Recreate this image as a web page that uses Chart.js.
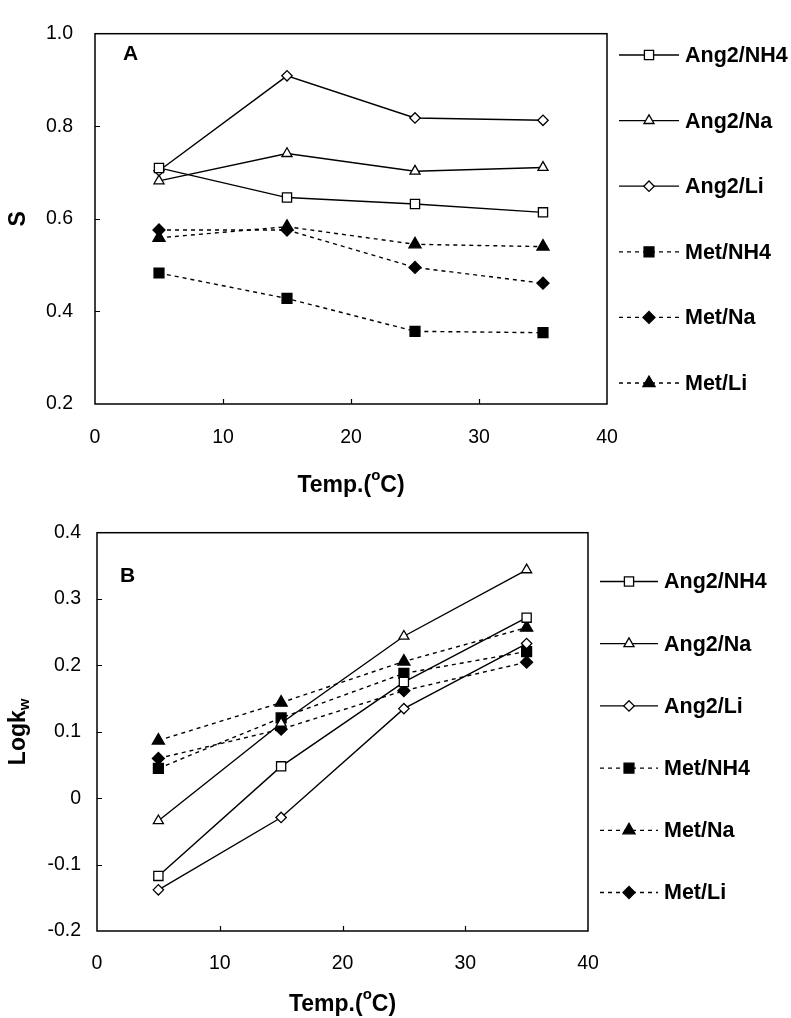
<!DOCTYPE html>
<html>
<head>
<meta charset="utf-8">
<script src="https://cdn.jsdelivr.net/npm/chart.js@4.4.0/dist/chart.umd.min.js"></script>
<style>
  body { margin: 0; background: #fff; }
  #wrap { position: relative; width: 791px; height: 1018px; }
  canvas { position: absolute; left: 0; }
</style>
</head>
<body>
<div id="wrap">
  <canvas id="chartA" width="791" height="505" style="top:0"></canvas>
  <canvas id="chartB" width="791" height="513" style="top:505px"></canvas>
</div>
<script>
const FONT = '"Liberation Sans", Arial, Helvetica, sans-serif';

// temperatures (x axis, deg C)
const temps = [5, 15, 25, 35];
const xTicks = [0, 10, 20, 30, 40];

// panel A: S
const sAng2NH4 = [0.710, 0.646, 0.632, 0.614];
const sAng2Na  = [0.682, 0.741, 0.703, 0.711];
const sAng2Li  = [0.704, 0.909, 0.818, 0.813];
const sMetNH4  = [0.483, 0.428, 0.357, 0.354];
const sMetNa   = [0.576, 0.576, 0.495, 0.461];
const sMetLi   = [0.559, 0.583, 0.545, 0.540];
const sTicks   = [0.2, 0.4, 0.6, 0.8, 1.0];

// panel B: Log kw
const kAng2NH4 = [-0.117, 0.048, 0.175, 0.272];
const kAng2Na  = [-0.034, 0.113, 0.244, 0.344];
const kAng2Li  = [-0.138, -0.029, 0.135, 0.233];
const kMetNH4  = [0.045, 0.121, 0.188, 0.221];
const kMetNa   = [0.087, 0.144, 0.206, 0.257];
const kMetLi   = [0.060, 0.104, 0.162, 0.205];
const kTicks   = [-0.2, -0.1, 0, 0.1, 0.2, 0.3, 0.4];

// marker styles
const OPEN_SQ  = { shape: 'rect', r: 6.5, fill: false, dash: false };
const OPEN_TRI = { shape: 'triangle', r: 5.8, fill: false, dash: false };
const OPEN_DIA = { shape: 'rectRot', r: 5.2, fill: false, dash: false };
const FILL_SQ  = { shape: 'rect', r: 7, fill: true, dash: true };
const FILL_TRI = { shape: 'triangle', r: 7, fill: true, dash: true };
const FILL_DIA = { shape: 'rectRot', r: 6, fill: true, dash: true };

function makeDataset(label, values, st) {
  return {
    label: label,
    data: temps.map((t, i) => ({ x: t, y: values[i] })),
    borderColor: '#000',
    borderWidth: 1.4,
    borderDash: st.dash ? [4, 4] : [],
    pointStyle: st.shape,
    pointRadius: st.r,
    pointBackgroundColor: st.fill ? '#000' : '#fff',
    pointBorderColor: '#000',
    pointBorderWidth: 1.3,
    tension: 0,
    fill: false
  };
}

function fmtTick(v) {
  if (Math.abs(v) < 1e-9) return '0';
  return v.toFixed(1);
}

function drawRich(ctx, parts, cx, cy) {
  let w = 0;
  parts.forEach(p => { ctx.font = p.font; p.w = ctx.measureText(p.t).width; w += p.w; });
  let x = cx - w / 2;
  ctx.textBaseline = 'middle';
  ctx.textAlign = 'left';
  parts.forEach(p => {
    ctx.font = p.font;
    ctx.fillText(p.t, x, cy + (p.dy || 0));
    x += p.w;
  });
}

function marker(ctx, st, x, y) {
  ctx.fillStyle = st.pointBackgroundColor;
  ctx.strokeStyle = '#000';
  ctx.lineWidth = 1.3;
  if (Chart.helpers && Chart.helpers.drawPoint) {
    Chart.helpers.drawPoint(ctx, { pointStyle: st.pointStyle, radius: st.pointRadius, borderWidth: 1.3, rotation: 0 }, x, y);
  }
}

const decorPlugin = {
  id: 'decor',
  afterDatasetsDraw(chart, args, opts) {
    const { ctx, chartArea: a, scales } = chart;
    ctx.save();
    ctx.strokeStyle = '#000';
    ctx.setLineDash([]);
    ctx.lineWidth = 1.5;
    ctx.strokeRect(a.left, a.top, a.right - a.left, a.bottom - a.top);
    ctx.lineWidth = 1.2;
    ctx.beginPath();
    scales.x.ticks.forEach(t => {
      if (t.value <= scales.x.min || t.value >= scales.x.max) return;
      const px = Math.round(scales.x.getPixelForValue(t.value)) + 0.5;
      ctx.moveTo(px, a.bottom);
      ctx.lineTo(px, a.bottom - 5);
    });
    scales.y.ticks.forEach(t => {
      if (t.value <= scales.y.min + 1e-9 || t.value >= scales.y.max - 1e-9) return;
      const py = Math.round(scales.y.getPixelForValue(t.value)) + 0.5;
      ctx.moveTo(a.left, py);
      ctx.lineTo(a.left + 5, py);
    });
    ctx.stroke();
    ctx.restore();
  },
  afterDraw(chart, args, opts) {
    const { ctx, chartArea: a } = chart;
    ctx.save();
    ctx.fillStyle = '#000';
    // panel letter
    ctx.font = 'bold 21px ' + FONT;
    ctx.textBaseline = 'middle';
    ctx.textAlign = 'left';
    ctx.fillText(opts.letter, opts.letterX, opts.letterY);
    // x title
    drawRich(ctx, [
      { t: 'Temp.(', font: 'bold 23px ' + FONT },
      { t: 'o', font: 'bold 15px ' + FONT, dy: -10 },
      { t: 'C)', font: 'bold 23px ' + FONT }
    ], (a.left + a.right) / 2, opts.xTitleY);
    // y title
    ctx.save();
    ctx.translate(opts.yTitleX, (a.top + a.bottom) / 2);
    ctx.rotate(-Math.PI / 2);
    drawRich(ctx, opts.yTitle, 0, 0);
    ctx.restore();
    // legend
    const lg = opts.legend;
    chart.data.datasets.forEach((ds, i) => {
      const y = lg.y0 + i * lg.dy;
      ctx.save();
      ctx.strokeStyle = '#000';
      ctx.lineWidth = 1.3;
      ctx.setLineDash(ds.borderDash);
      ctx.beginPath();
      ctx.moveTo(lg.x0, y);
      ctx.lineTo(lg.x1, y);
      ctx.stroke();
      ctx.setLineDash([]);
      marker(ctx, ds, (lg.x0 + lg.x1) / 2, y);
      ctx.restore();
      ctx.fillStyle = '#000';
      ctx.font = 'bold 21.5px ' + FONT;
      ctx.textBaseline = 'middle';
      ctx.textAlign = 'left';
      ctx.fillText(ds.label, lg.tx, y + 1);
    });
    ctx.restore();
  }
};

function makeChart(id, datasets, yMin, yMax, yStep, geo, decor) {
  return new Chart(document.getElementById(id), {
    type: 'line',
    data: { datasets: datasets },
    plugins: [decorPlugin],
    options: {
      responsive: false,
      animation: false,
      devicePixelRatio: 1,
      layout: { padding: { left: 0, top: geo.top, right: geo.right, bottom: 0 } },
      plugins: { legend: { display: false }, tooltip: { enabled: false }, decor: decor },
      scales: {
        x: {
          type: 'linear', min: 0, max: 40,
          afterFit: s => { s.height = geo.xHeight; },
          afterBuildTicks: s => { s.ticks = xTicks.map(v => ({ value: v })); },
          grid: { display: false, drawTicks: false },
          border: { display: false },
          ticks: { padding: geo.xPad, color: '#000', font: { family: FONT, size: 19.5 }, maxRotation: 0, autoSkip: false }
        },
        y: {
          type: 'linear', min: yMin, max: yMax,
          afterFit: s => { s.width = geo.yWidth; },
          afterBuildTicks: s => { s.ticks = decor.yTicks.map(v => ({ value: v })); },
          grid: { display: false, drawTicks: false },
          border: { display: false },
          ticks: { padding: geo.yPad, color: '#000', font: { family: FONT, size: 19.5 }, autoSkip: false, callback: v => fmtTick(v) }
        }
      }
    }
  });
}

makeChart('chartA', [
  makeDataset('Ang2/NH4', sAng2NH4, OPEN_SQ),
  makeDataset('Ang2/Na', sAng2Na, OPEN_TRI),
  makeDataset('Ang2/Li', sAng2Li, OPEN_DIA),
  makeDataset('Met/NH4', sMetNH4, FILL_SQ),
  makeDataset('Met/Na', sMetNa, FILL_DIA),
  makeDataset('Met/Li', sMetLi, FILL_TRI)
], 0.2, 1.0, 0.2,
  { top: 16, right: 184, xHeight: 101, yWidth: 95, xPad: 22, yPad: 22 },
  {
    yTicks: sTicks,
    letter: 'A', letterX: 123, letterY: 54,
    xTitleY: 486, yTitleX: 19,
    yTitle: [{ t: 'S', font: 'bold 23px ' + FONT }],
    legend: { x0: 619, x1: 679, tx: 685, y0: 55, dy: 65.6 }
  });

makeChart('chartB', [
  makeDataset('Ang2/NH4', kAng2NH4, OPEN_SQ),
  makeDataset('Ang2/Na', kAng2Na, OPEN_TRI),
  makeDataset('Ang2/Li', kAng2Li, OPEN_DIA),
  makeDataset('Met/NH4', kMetNH4, FILL_SQ),
  makeDataset('Met/Na', kMetNa, FILL_TRI),
  makeDataset('Met/Li', kMetLi, FILL_DIA)
], -0.2, 0.4, 0.1,
  { top: 26, right: 203, xHeight: 87, yWidth: 97, xPad: 21, yPad: 16 },
  {
    yTicks: kTicks,
    letter: 'B', letterX: 120, letterY: 71,
    xTitleY: 500, yTitleX: 19,
    yTitle: [{ t: 'Logk', font: 'bold 23px ' + FONT }, { t: 'w', font: 'bold 15px ' + FONT, dy: 6 }],
    legend: { x0: 600, x1: 658, tx: 664, y0: 76.5, dy: 62.2 }
  });
</script>
</body>
</html>
